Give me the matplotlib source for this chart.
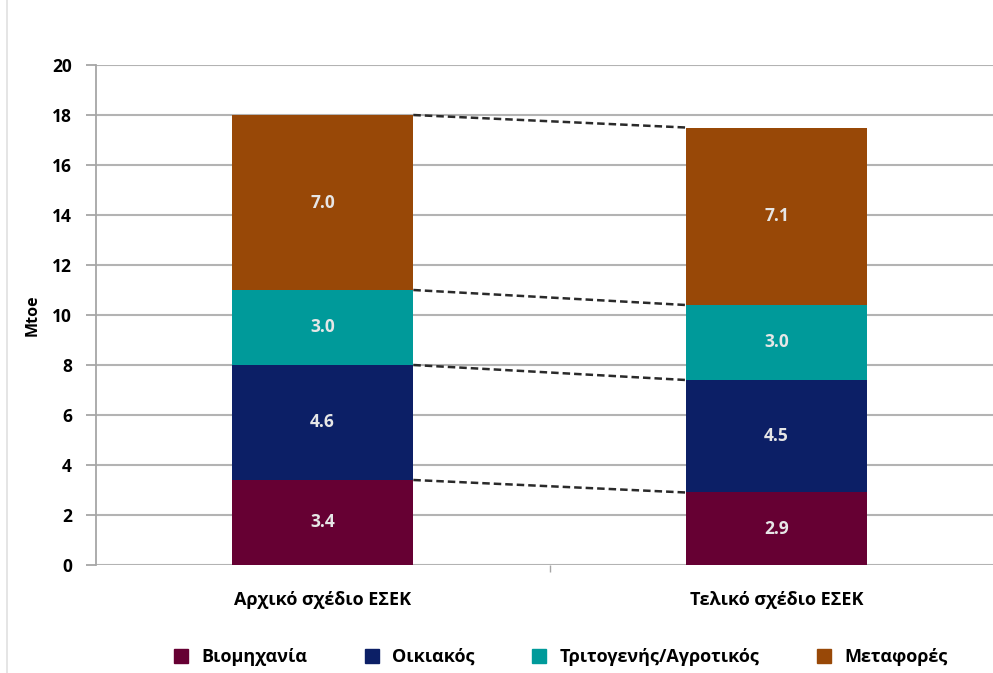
import numpy as np
import matplotlib.pyplot as plt
from matplotlib.lines import Line2D

plt.rcParams['font.family'] = ['Open Sans', 'DejaVu Sans']

# Σενάρια και τομείς
senaria = ["Αρχικό σχέδιο ΕΣΕΚ", "Τελικό σχέδιο ΕΣΕΚ"]
tomeis = ["Βιομηχανία", "Οικιακός", "Τριτογενής/Αγροτικός", "Μεταφορές"]
viomixania = [3.4, 2.9]
oikiakos = [4.6, 4.5]
tritogenis = [3.0, 3.0]
metafores = [7.0, 7.1]
xromata = ["#660033", "#0c1f66", "#009a9a", "#984807"]

fig = plt.figure(figsize=(9.93, 6.73), dpi=100)
ax = fig.add_axes([0.0962, 0.1605, 0.9144, 0.7429])

x = np.arange(len(senaria))
platos = 0.4
vasi = np.zeros(len(senaria))
oria = []
for timi, xr in zip([viomixania, oikiakos, tritogenis, metafores], xromata):
    timi = np.array(timi)
    ax.bar(x, timi, platos, bottom=vasi, color=xr, zorder=3)
    for xi, b, v in zip(x, vasi, timi):
        ax.text(xi, b + v / 2, f"{v:.1f}", ha="center", va="center",
                color="#e6e6e6", fontsize=12.5, fontweight="bold", zorder=4)
    vasi = vasi + timi
    oria.append(vasi.copy())

# διακεκομμένες γραμμές ανάμεσα στις στήλες
for o in oria:
    ax.plot([x[0] + platos / 2, x[1] - platos / 2], [o[0], o[1]],
            ls=(0, (3, 1.6)), color="#2a2a2a", lw=1.8, zorder=2)

ax.set_xlim(-0.5, 1.5)
ax.set_ylim(0, 20)
ax.set_yticks(np.arange(0, 21, 2))
ax.yaxis.grid(True, color="#b3b3b3", lw=1.5, zorder=0)
ax.set_axisbelow(True)
for s in ["top", "right", "bottom"]:
    ax.spines[s].set_visible(False)
ax.spines["left"].set_color("#a6a6a6")
ax.spines["left"].set_linewidth(1.3)
ax.tick_params(axis="y", length=7, color="#a6a6a6", width=1.3, labelsize=12.5, pad=10)
for t in ax.get_yticklabels():
    t.set_fontweight("bold")

ax.set_xticks(x)
ax.set_xticklabels(senaria, fontsize=13, fontweight="bold")
ax.tick_params(axis="x", length=0, pad=19)
ax.set_xticks([0.5], minor=True)
ax.tick_params(axis="x", which="minor", length=5, color="#a6a6a6", width=1)

ax.set_ylabel("Mtoe", fontsize=11.5, fontweight="bold", labelpad=8)

handles = [Line2D([], [], marker="s", ls="", color=c, markersize=10) for c in xromata]
fig.legend(handles, tomeis, loc="center", bbox_to_anchor=(0.559, 0.024), ncol=4,
           frameon=False, handletextpad=0.1, columnspacing=2.6,
           prop={"weight": "bold", "size": 13})

fig.add_artist(Line2D([0.007, 0.007], [0, 1], color="#e0e0e0", lw=1.2))

fig.savefig("out.png", dpi=100)
